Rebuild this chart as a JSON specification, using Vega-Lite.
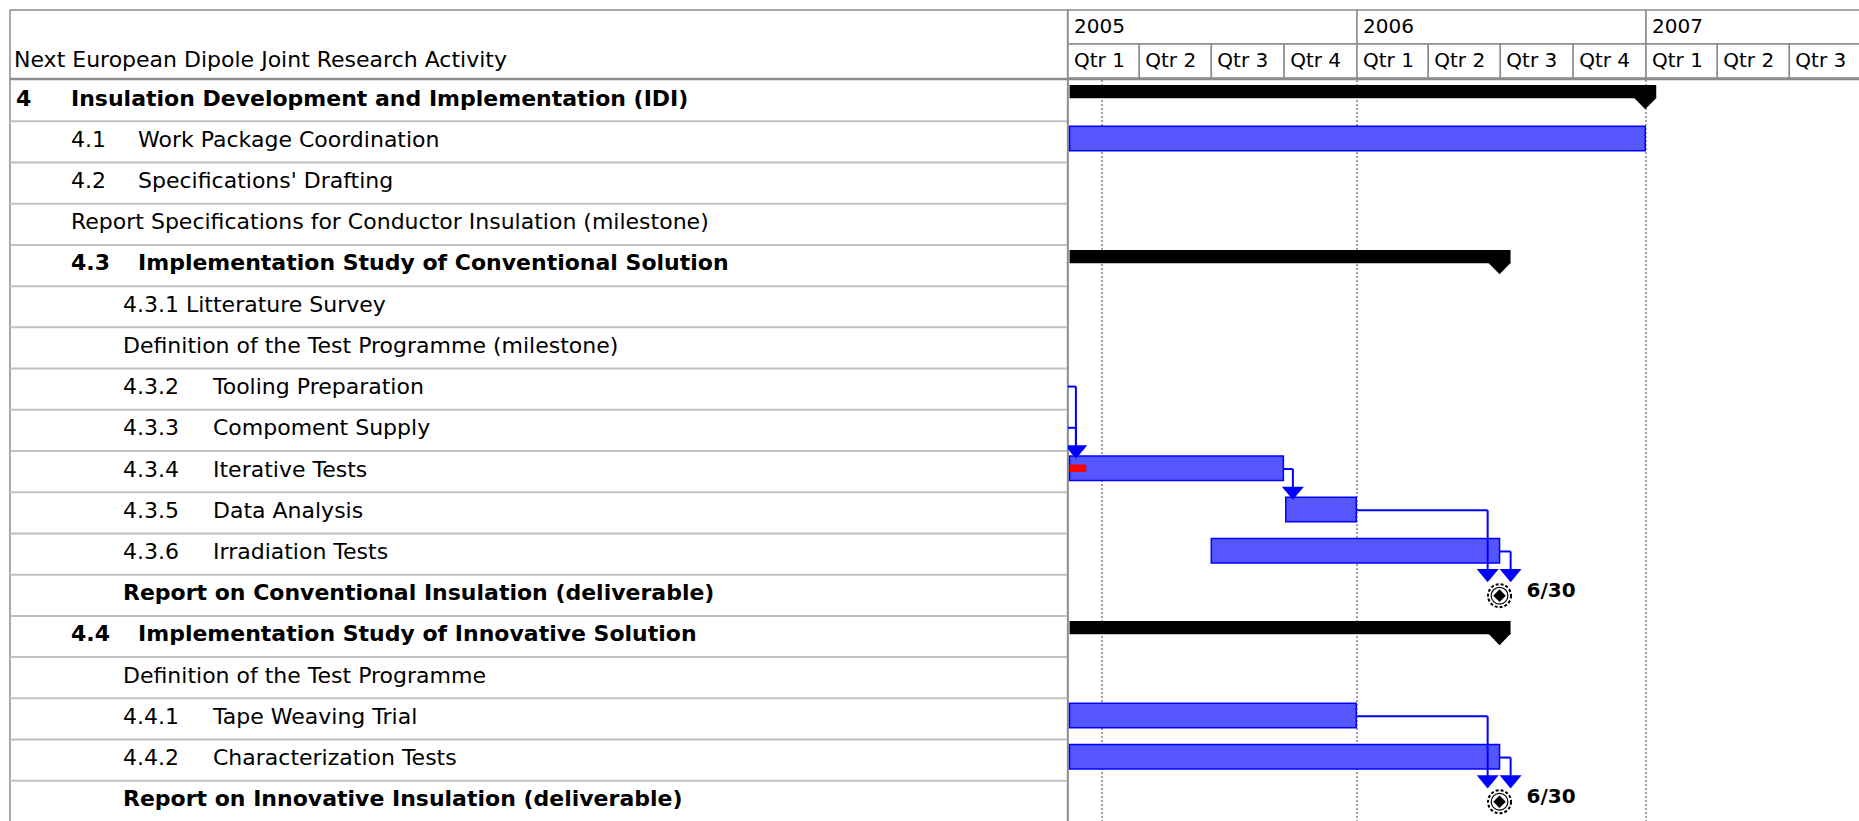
{
  "$schema": "https://vega.github.io/schema/vega-lite/v6.json",
  "padding": {"left": 8, "top": 9, "right": 0, "bottom": 0},
  "background": "white",
  "spacing": 0,
  "bounds": "flush",
  "config": {
    "view": {"stroke": "#8c8c8c", "strokeWidth": 1.5},
    "text": {"font": "DejaVu Sans", "color": "#000000"}
  },
  "datasets": {
    "tasks": [
      {"row": 0, "level": 0, "num": "4", "name": "Insulation Development and Implementation (IDI)", "type": "summary", "start": "2005-01-03", "end": "2006-12-31"},
      {"row": 1, "level": 1, "num": "4.1", "name": "Work Package Coordination", "type": "task", "start": "2005-01-03", "end": "2006-12-31"},
      {"row": 2, "level": 1, "num": "4.2", "name": "Specifications' Drafting", "type": "task", "start": null, "end": null},
      {"row": 3, "level": 1, "num": "", "name": "Report Specifications for Conductor Insulation (milestone)", "type": "milestone", "start": null, "end": null},
      {"row": 4, "level": 1, "num": "4.3", "name": "Implementation Study of Conventional Solution", "type": "summary", "start": "2005-01-03", "end": "2006-06-30"},
      {"row": 5, "level": 2, "num": "", "name": "4.3.1  Litterature Survey", "type": "task", "start": null, "end": null},
      {"row": 6, "level": 2, "num": "", "name": "Definition of the Test Programme (milestone)", "type": "milestone", "start": null, "end": null},
      {"row": 7, "level": 2, "num": "4.3.2", "name": "Tooling Preparation", "type": "task", "start": null, "end": "2004-12-31"},
      {"row": 8, "level": 2, "num": "4.3.3", "name": "Compoment Supply", "type": "task", "start": null, "end": "2004-12-31"},
      {"row": 9, "level": 2, "num": "4.3.4", "name": "Iterative Tests", "type": "task", "start": "2005-01-03", "end": "2005-09-30", "done": "2005-01-24"},
      {"row": 10, "level": 2, "num": "4.3.5", "name": "Data Analysis", "type": "task", "start": "2005-10-03", "end": "2005-12-31"},
      {"row": 11, "level": 2, "num": "4.3.6", "name": "Irradiation Tests", "type": "task", "start": "2005-07-01", "end": "2006-06-30"},
      {"row": 12, "level": 2, "num": "", "name": "Report on Conventional Insulation (deliverable)", "type": "deliverable", "start": "2006-06-30", "end": "2006-06-30", "label": "6/30"},
      {"row": 13, "level": 1, "num": "4.4", "name": "Implementation Study of Innovative Solution", "type": "summary", "start": "2005-01-03", "end": "2006-06-30"},
      {"row": 14, "level": 2, "num": "", "name": "Definition of the Test Programme", "type": "milestone", "start": null, "end": null},
      {"row": 15, "level": 2, "num": "4.4.1", "name": "Tape Weaving Trial", "type": "task", "start": "2005-01-03", "end": "2005-12-31"},
      {"row": 16, "level": 2, "num": "4.4.2", "name": "Characterization Tests", "type": "task", "start": "2005-01-03", "end": "2006-06-30"},
      {"row": 17, "level": 2, "num": "", "name": "Report on Innovative Insulation (deliverable)", "type": "deliverable", "start": "2006-06-30", "end": "2006-06-30", "label": "6/30"}
    ],
    "links": [
      {"from": 7, "to": 9, "fromEnd": "2004-12-31", "turn": "2005-01-11"},
      {"from": 8, "to": 9, "fromEnd": "2004-12-31", "turn": "2005-01-11"},
      {"from": 9, "to": 10, "fromEnd": "2005-09-30", "turn": "2005-10-12"},
      {"from": 10, "to": 12, "fromEnd": "2005-12-31", "turn": "2006-06-15"},
      {"from": 11, "to": 12, "fromEnd": "2006-06-30", "turn": "2006-07-14"},
      {"from": 15, "to": 17, "fromEnd": "2005-12-31", "turn": "2006-06-15"},
      {"from": 16, "to": 17, "fromEnd": "2006-06-30", "turn": "2006-07-14"}
    ],
    "years": [
      {"label": "2005", "start": "2005-01-01", "end": "2006-01-01"},
      {"label": "2006", "start": "2006-01-01", "end": "2007-01-01"},
      {"label": "2007", "start": "2007-01-01", "end": "2008-01-01"}
    ],
    "quarters": [
      {"label": "Qtr 1", "start": "2005-01-01", "end": "2005-04-01"},
      {"label": "Qtr 2", "start": "2005-04-01", "end": "2005-07-01"},
      {"label": "Qtr 3", "start": "2005-07-01", "end": "2005-10-01"},
      {"label": "Qtr 4", "start": "2005-10-01", "end": "2006-01-01"},
      {"label": "Qtr 1", "start": "2006-01-01", "end": "2006-04-01"},
      {"label": "Qtr 2", "start": "2006-04-01", "end": "2006-07-01"},
      {"label": "Qtr 3", "start": "2006-07-01", "end": "2006-10-01"},
      {"label": "Qtr 4", "start": "2006-10-01", "end": "2007-01-01"},
      {"label": "Qtr 1", "start": "2007-01-01", "end": "2007-04-01"},
      {"label": "Qtr 2", "start": "2007-04-01", "end": "2007-07-01"},
      {"label": "Qtr 3", "start": "2007-07-01", "end": "2007-10-01"}
    ],
    "gridlines": [
      {"date": "2005-02-13"},
      {"date": "2006-01-01"},
      {"date": "2007-01-01"}
    ]
  },
  "hconcat": [
    {
      "width": 1057.6,
      "height": 812,
      "data": {"name": "tasks"},
      "resolve": {"scale": {"x": "independent"}},
      "layer": [
        {
          "transform": [{"filter": "datum.row > 0"}],
          "mark": {"type": "rule", "color": "#c0c0c0", "strokeWidth": 2},
          "encoding": {"y": {"field": "row", "type": "quantitative", "scale": {"domain": [-1.699, 18], "reverse": true, "nice": false, "zero": false}, "axis": null}}
        },
        {
          "data": {"values": [{}]},
          "mark": {"type": "rule", "color": "#8c8c8c", "strokeWidth": 2.5},
          "encoding": {"y": {"datum": -0.024, "type": "quantitative", "scale": {"domain": [-1.699, 18], "reverse": true, "nice": false, "zero": false}, "axis": null}}
        },
        {
          "data": {"values": [{"h": "Next European Dipole Joint Research Activity"}]},
          "mark": {"type": "text", "align": "left", "baseline": "middle", "fontSize": 22},
          "encoding": {
            "text": {"field": "h"},
            "x": {"datum": 0, "type": "quantitative", "scale": {"domain": [0, 2], "range": [4, 111]}, "axis": null},
            "y": {"datum": -0.49, "type": "quantitative", "scale": {"domain": [-1.699, 18], "reverse": true, "nice": false, "zero": false}, "axis": null}
          }
        },
        {
          "transform": [{"filter": "datum.num != '' && datum.type != 'summary' && datum.type != 'deliverable'"}],
          "mark": {"type": "text", "align": "left", "baseline": "middle", "fontSize": 22, "yOffset": 18.5},
          "encoding": {
            "text": {"field": "num"},
            "x": {"field": "level", "type": "quantitative", "scale": {"type": "pow", "exponent": 0.96, "domain": [0, 2], "range": [6, 113]}, "axis": null},
            "y": {"field": "row", "type": "quantitative", "scale": {"domain": [-1.699, 18], "reverse": true, "nice": false, "zero": false}, "axis": null}
          }
        },
        {
          "transform": [{"filter": "datum.num != '' && (datum.type == 'summary' || datum.type == 'deliverable')"}],
          "mark": {"type": "text", "align": "left", "baseline": "middle", "fontSize": 22, "fontWeight": "bold", "yOffset": 18.5},
          "encoding": {
            "text": {"field": "num"},
            "x": {"field": "level", "type": "quantitative", "scale": {"type": "pow", "exponent": 0.96, "domain": [0, 2], "range": [6, 113]}, "axis": null},
            "y": {"field": "row", "type": "quantitative", "scale": {"domain": [-1.699, 18], "reverse": true, "nice": false, "zero": false}, "axis": null}
          }
        },
        {
          "transform": [{"filter": "datum.num != '' && datum.type != 'summary' && datum.type != 'deliverable'"}],
          "mark": {"type": "text", "align": "left", "baseline": "middle", "fontSize": 22, "yOffset": 18.5},
          "encoding": {
            "text": {"field": "name"},
            "x": {"field": "level", "type": "quantitative", "scale": {"type": "pow", "exponent": 1.083, "domain": [0, 2], "range": [61, 203]}, "axis": null},
            "y": {"field": "row", "type": "quantitative", "scale": {"domain": [-1.699, 18], "reverse": true, "nice": false, "zero": false}, "axis": null}
          }
        },
        {
          "transform": [{"filter": "datum.num != '' && (datum.type == 'summary' || datum.type == 'deliverable')"}],
          "mark": {"type": "text", "align": "left", "baseline": "middle", "fontSize": 22, "fontWeight": "bold", "yOffset": 18.5},
          "encoding": {
            "text": {"field": "name"},
            "x": {"field": "level", "type": "quantitative", "scale": {"type": "pow", "exponent": 1.083, "domain": [0, 2], "range": [61, 203]}, "axis": null},
            "y": {"field": "row", "type": "quantitative", "scale": {"domain": [-1.699, 18], "reverse": true, "nice": false, "zero": false}, "axis": null}
          }
        },
        {
          "transform": [{"filter": "datum.num == '' && datum.type != 'summary' && datum.type != 'deliverable'"}],
          "mark": {"type": "text", "align": "left", "baseline": "middle", "fontSize": 22, "yOffset": 18.5},
          "encoding": {
            "text": {"field": "name"},
            "x": {"field": "level", "type": "quantitative", "scale": {"type": "pow", "exponent": 0.96, "domain": [0, 2], "range": [6, 113]}, "axis": null},
            "y": {"field": "row", "type": "quantitative", "scale": {"domain": [-1.699, 18], "reverse": true, "nice": false, "zero": false}, "axis": null}
          }
        },
        {
          "transform": [{"filter": "datum.num == '' && (datum.type == 'summary' || datum.type == 'deliverable')"}],
          "mark": {"type": "text", "align": "left", "baseline": "middle", "fontSize": 22, "fontWeight": "bold", "yOffset": 18.5},
          "encoding": {
            "text": {"field": "name"},
            "x": {"field": "level", "type": "quantitative", "scale": {"type": "pow", "exponent": 0.96, "domain": [0, 2], "range": [6, 113]}, "axis": null},
            "y": {"field": "row", "type": "quantitative", "scale": {"domain": [-1.699, 18], "reverse": true, "nice": false, "zero": false}, "axis": null}
          }
        }
      ]
    },
    {
      "width": 793.4,
      "height": 812,
      "layer": [
        {
          "data": {"name": "gridlines"},
          "mark": {"type": "rule", "color": "#808080", "strokeDash": [2, 2], "strokeWidth": 1.5, "clip": true},
          "encoding": {
            "x": {"field": "date", "type": "temporal", "scale": {"type": "utc", "domain": [{"year": 2005, "month": 1, "date": 1, "utc": true}, {"year": 2007, "month": 9, "date": 30, "utc": true}]}, "axis": null},
            "y": {"datum": 0, "type": "quantitative", "scale": {"domain": [-1.699, 18], "reverse": true, "nice": false, "zero": false}, "axis": null},
            "y2": {"datum": 18}
          }
        },
        {
          "data": {"name": "tasks"},
          "transform": [{"filter": "datum.type == 'summary'"}],
          "mark": {"type": "rect", "color": "#000000", "yOffset": 5, "y2Offset": 18.3, "x2Offset": 11, "clip": true},
          "encoding": {
            "x": {"field": "start", "type": "temporal", "scale": {"type": "utc", "domain": [{"year": 2005, "month": 1, "date": 1, "utc": true}, {"year": 2007, "month": 9, "date": 30, "utc": true}]}, "axis": null},
            "x2": {"field": "end"},
            "y": {"field": "row", "type": "quantitative", "scale": {"domain": [-1.699, 18], "reverse": true, "nice": false, "zero": false}, "axis": null},
            "y2": {"field": "row"}
          }
        },
        {
          "data": {"name": "tasks"},
          "transform": [{"filter": "datum.type == 'summary'"}],
          "mark": {"type": "point", "shape": "M-1,-0.55L1,-0.55L0,0.48Z", "size": 529, "filled": true, "color": "#000000", "opacity": 1, "yOffset": 23.8, "clip": true},
          "encoding": {
            "x": {"field": "end", "type": "temporal", "scale": {"type": "utc", "domain": [{"year": 2005, "month": 1, "date": 1, "utc": true}, {"year": 2007, "month": 9, "date": 30, "utc": true}]}, "axis": null},
            "y": {"field": "row", "type": "quantitative", "scale": {"domain": [-1.699, 18], "reverse": true, "nice": false, "zero": false}, "axis": null}
          }
        },
        {
          "data": {"name": "tasks"},
          "transform": [{"filter": "datum.type == 'task' && datum.start != null"}],
          "mark": {"type": "rect", "fill": "#5656ff", "stroke": "#0000ff", "strokeWidth": 1.5, "yOffset": 5, "y2Offset": 29.5, "clip": true},
          "encoding": {
            "x": {"field": "start", "type": "temporal", "scale": {"type": "utc", "domain": [{"year": 2005, "month": 1, "date": 1, "utc": true}, {"year": 2007, "month": 9, "date": 30, "utc": true}]}, "axis": null},
            "x2": {"field": "end"},
            "y": {"field": "row", "type": "quantitative", "scale": {"domain": [-1.699, 18], "reverse": true, "nice": false, "zero": false}, "axis": null},
            "y2": {"field": "row"}
          }
        },
        {
          "data": {"name": "tasks"},
          "transform": [{"filter": "datum.done != null"}],
          "mark": {"type": "rect", "color": "#ff0000", "yOffset": 13.5, "y2Offset": 21, "clip": true},
          "encoding": {
            "x": {"field": "start", "type": "temporal", "scale": {"type": "utc", "domain": [{"year": 2005, "month": 1, "date": 1, "utc": true}, {"year": 2007, "month": 9, "date": 30, "utc": true}]}, "axis": null},
            "x2": {"field": "done"},
            "y": {"field": "row", "type": "quantitative", "scale": {"domain": [-1.699, 18], "reverse": true, "nice": false, "zero": false}, "axis": null},
            "y2": {"field": "row"}
          }
        },
        {
          "data": {"name": "links"},
          "mark": {"type": "rule", "color": "#0000ff", "strokeWidth": 2, "yOffset": 18, "clip": true},
          "encoding": {
            "x": {"field": "fromEnd", "type": "temporal", "scale": {"type": "utc", "domain": [{"year": 2005, "month": 1, "date": 1, "utc": true}, {"year": 2007, "month": 9, "date": 30, "utc": true}]}, "axis": null},
            "x2": {"field": "turn"},
            "y": {"field": "from", "type": "quantitative", "scale": {"domain": [-1.699, 18], "reverse": true, "nice": false, "zero": false}, "axis": null}
          }
        },
        {
          "data": {"name": "links"},
          "mark": {"type": "rule", "color": "#0000ff", "strokeWidth": 2, "yOffset": 18, "y2Offset": -4, "clip": true},
          "encoding": {
            "x": {"field": "turn", "type": "temporal", "scale": {"type": "utc", "domain": [{"year": 2005, "month": 1, "date": 1, "utc": true}, {"year": 2007, "month": 9, "date": 30, "utc": true}]}, "axis": null},
            "y": {"field": "from", "type": "quantitative", "scale": {"domain": [-1.699, 18], "reverse": true, "nice": false, "zero": false}, "axis": null},
            "y2": {"field": "to"}
          }
        },
        {
          "data": {"name": "links"},
          "mark": {"type": "point", "shape": "M-1,-0.6L1,-0.6L0,0.6Z", "size": 484, "filled": true, "color": "#0000ff", "opacity": 1, "yOffset": 1, "clip": true},
          "encoding": {
            "x": {"field": "turn", "type": "temporal", "scale": {"type": "utc", "domain": [{"year": 2005, "month": 1, "date": 1, "utc": true}, {"year": 2007, "month": 9, "date": 30, "utc": true}]}, "axis": null},
            "y": {"field": "to", "type": "quantitative", "scale": {"domain": [-1.699, 18], "reverse": true, "nice": false, "zero": false}, "axis": null}
          }
        },
        {
          "data": {"name": "tasks"},
          "transform": [{"filter": "datum.type == 'deliverable'"}],
          "mark": {"type": "point", "shape": "circle", "size": 531, "filled": false, "fill": "#ffffff", "fillOpacity": 1, "stroke": "#000000", "strokeWidth": 2, "strokeDash": [3, 2], "opacity": 1, "yOffset": 21, "clip": true},
          "encoding": {
            "x": {"field": "start", "type": "temporal", "scale": {"type": "utc", "domain": [{"year": 2005, "month": 1, "date": 1, "utc": true}, {"year": 2007, "month": 9, "date": 30, "utc": true}]}, "axis": null},
            "y": {"field": "row", "type": "quantitative", "scale": {"domain": [-1.699, 18], "reverse": true, "nice": false, "zero": false}, "axis": null}
          }
        },
        {
          "data": {"name": "tasks"},
          "transform": [{"filter": "datum.type == 'deliverable'"}],
          "mark": {"type": "point", "shape": "circle", "size": 280, "filled": false, "stroke": "#000000", "strokeWidth": 1.2, "opacity": 1, "yOffset": 21, "clip": true},
          "encoding": {
            "x": {"field": "start", "type": "temporal", "scale": {"type": "utc", "domain": [{"year": 2005, "month": 1, "date": 1, "utc": true}, {"year": 2007, "month": 9, "date": 30, "utc": true}]}, "axis": null},
            "y": {"field": "row", "type": "quantitative", "scale": {"domain": [-1.699, 18], "reverse": true, "nice": false, "zero": false}, "axis": null}
          }
        },
        {
          "data": {"name": "tasks"},
          "transform": [{"filter": "datum.type == 'deliverable'"}],
          "mark": {"type": "point", "shape": "diamond", "size": 160, "filled": true, "color": "#000000", "opacity": 1, "yOffset": 21, "clip": true},
          "encoding": {
            "x": {"field": "start", "type": "temporal", "scale": {"type": "utc", "domain": [{"year": 2005, "month": 1, "date": 1, "utc": true}, {"year": 2007, "month": 9, "date": 30, "utc": true}]}, "axis": null},
            "y": {"field": "row", "type": "quantitative", "scale": {"domain": [-1.699, 18], "reverse": true, "nice": false, "zero": false}, "axis": null}
          }
        },
        {
          "data": {"name": "tasks"},
          "transform": [{"filter": "datum.type == 'deliverable'"}],
          "mark": {"type": "text", "align": "left", "baseline": "middle", "fontSize": 20, "fontWeight": "bold", "dx": 27, "yOffset": 16, "clip": true},
          "encoding": {
            "text": {"field": "label"},
            "x": {"field": "start", "type": "temporal", "scale": {"type": "utc", "domain": [{"year": 2005, "month": 1, "date": 1, "utc": true}, {"year": 2007, "month": 9, "date": 30, "utc": true}]}, "axis": null},
            "y": {"field": "row", "type": "quantitative", "scale": {"domain": [-1.699, 18], "reverse": true, "nice": false, "zero": false}, "axis": null}
          }
        },
        {
          "data": {"name": "years"},
          "mark": {"type": "rect", "fill": "#ffffff", "stroke": "#8c8c8c", "strokeWidth": 1.5, "clip": true},
          "encoding": {
            "x": {"field": "start", "type": "temporal", "scale": {"type": "utc", "domain": [{"year": 2005, "month": 1, "date": 1, "utc": true}, {"year": 2007, "month": 9, "date": 30, "utc": true}]}, "axis": null},
            "x2": {"field": "end"},
            "y": {"datum": -1.699, "type": "quantitative", "scale": {"domain": [-1.699, 18], "reverse": true, "nice": false, "zero": false}, "axis": null},
            "y2": {"datum": -0.874}
          }
        },
        {
          "data": {"name": "quarters"},
          "mark": {"type": "rect", "fill": "#ffffff", "stroke": "#8c8c8c", "strokeWidth": 1.5, "clip": true},
          "encoding": {
            "x": {"field": "start", "type": "temporal", "scale": {"type": "utc", "domain": [{"year": 2005, "month": 1, "date": 1, "utc": true}, {"year": 2007, "month": 9, "date": 30, "utc": true}]}, "axis": null},
            "x2": {"field": "end"},
            "y": {"datum": -0.874, "type": "quantitative", "scale": {"domain": [-1.699, 18], "reverse": true, "nice": false, "zero": false}, "axis": null},
            "y2": {"datum": -0.049}
          }
        },
        {
          "data": {"name": "years"},
          "mark": {"type": "text", "align": "left", "baseline": "middle", "fontSize": 20, "dx": 6, "clip": true},
          "encoding": {
            "text": {"field": "label"},
            "x": {"field": "start", "type": "temporal", "scale": {"type": "utc", "domain": [{"year": 2005, "month": 1, "date": 1, "utc": true}, {"year": 2007, "month": 9, "date": 30, "utc": true}]}, "axis": null},
            "y": {"datum": -1.29, "type": "quantitative", "scale": {"domain": [-1.699, 18], "reverse": true, "nice": false, "zero": false}, "axis": null}
          }
        },
        {
          "data": {"name": "quarters"},
          "mark": {"type": "text", "align": "left", "baseline": "middle", "fontSize": 20, "dx": 6, "clip": true},
          "encoding": {
            "text": {"field": "label"},
            "x": {"field": "start", "type": "temporal", "scale": {"type": "utc", "domain": [{"year": 2005, "month": 1, "date": 1, "utc": true}, {"year": 2007, "month": 9, "date": 30, "utc": true}]}, "axis": null},
            "y": {"datum": -0.46, "type": "quantitative", "scale": {"domain": [-1.699, 18], "reverse": true, "nice": false, "zero": false}, "axis": null}
          }
        },
        {
          "data": {"values": [{}]},
          "mark": {"type": "rule", "color": "#8c8c8c", "strokeWidth": 2.5},
          "encoding": {"y": {"datum": -0.024, "type": "quantitative", "scale": {"domain": [-1.699, 18], "reverse": true, "nice": false, "zero": false}, "axis": null}}
        }
      ]
    }
  ]
}
